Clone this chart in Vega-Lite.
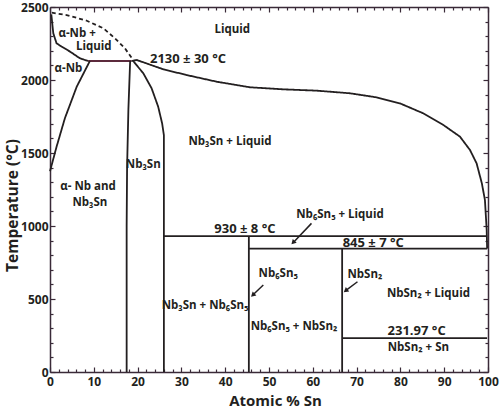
{
  "$schema": "https://vega.github.io/schema/vega-lite/v6.json",
  "width": 438,
  "height": 365,
  "autosize": "none",
  "padding": {"left": 50, "top": 7, "right": 12, "bottom": 39},
  "background": "white",
  "config": {
    "view": {"stroke": null},
    "font": "Open Sans",
    "axis": {
      "domainColor": "#3a2a38",
      "domainWidth": 1.5,
      "tickColor": "#3a2a38",
      "tickWidth": 1.2,
      "labelFont": "Open Sans",
      "labelFontWeight": "bold",
      "labelFontSize": 12,
      "labelColor": "#231f20",
      "titleFont": "Open Sans",
      "titleFontWeight": "bold",
      "titleFontSize": 15,
      "titleColor": "#231f20",
      "grid": false
    }
  },
  "datasets": {
    "curves": [
      {"g": "liqL", "s": "solid", "i": 0, "x": 0.3, "t": 2450},
      {"g": "liqL", "s": "solid", "i": 1, "x": 0.75, "t": 2320},
      {"g": "liqL", "s": "solid", "i": 2, "x": 1.5, "t": 2251},
      {"g": "liqL", "s": "solid", "i": 3, "x": 2.7, "t": 2228},
      {"g": "liqL", "s": "solid", "i": 4, "x": 4.6, "t": 2194},
      {"g": "liqL", "s": "solid", "i": 5, "x": 6.8, "t": 2149},
      {"g": "liqL", "s": "solid", "i": 6, "x": 8.7, "t": 2130},
      {"g": "peri", "s": "red", "i": 0, "x": 8.7, "t": 2130},
      {"g": "peri", "s": "red", "i": 1, "x": 18.6, "t": 2130},
      {"g": "dash", "s": "dash", "i": 0, "x": 0.4, "t": 2461},
      {"g": "dash", "s": "dash", "i": 1, "x": 3.8, "t": 2445},
      {"g": "dash", "s": "dash", "i": 2, "x": 8.4, "t": 2406},
      {"g": "dash", "s": "dash", "i": 3, "x": 12.2, "t": 2354},
      {"g": "dash", "s": "dash", "i": 4, "x": 14.8, "t": 2286},
      {"g": "dash", "s": "dash", "i": 5, "x": 17.1, "t": 2217},
      {"g": "dash", "s": "dash", "i": 6, "x": 18.7, "t": 2149},
      {"g": "solvus", "s": "solid", "i": 0, "x": 9.1, "t": 2130},
      {"g": "solvus", "s": "solid", "i": 1, "x": 6.1, "t": 1954},
      {"g": "solvus", "s": "solid", "i": 2, "x": 3.4, "t": 1738},
      {"g": "solvus", "s": "solid", "i": 3, "x": 1.5, "t": 1543},
      {"g": "solvus", "s": "solid", "i": 4, "x": 0, "t": 1375},
      {"g": "n3L", "s": "solid", "i": 0, "x": 18.3, "t": 2130},
      {"g": "n3L", "s": "solid", "i": 1, "x": 17.9, "t": 1800},
      {"g": "n3L", "s": "solid", "i": 2, "x": 17.6, "t": 1400},
      {"g": "n3L", "s": "solid", "i": 3, "x": 17.5, "t": 1000},
      {"g": "n3L", "s": "solid", "i": 4, "x": 17.5, "t": 0},
      {"g": "n3R", "s": "solid", "i": 0, "x": 19.0, "t": 2130},
      {"g": "n3R", "s": "solid", "i": 1, "x": 21.3, "t": 2046},
      {"g": "n3R", "s": "solid", "i": 2, "x": 23.2, "t": 1943},
      {"g": "n3R", "s": "solid", "i": 3, "x": 24.7, "t": 1817},
      {"g": "n3R", "s": "solid", "i": 4, "x": 25.6, "t": 1703},
      {"g": "n3R", "s": "solid", "i": 5, "x": 26.0, "t": 1623},
      {"g": "n3R", "s": "solid", "i": 6, "x": 26.0, "t": 0},
      {"g": "liqR", "s": "solid", "i": 0, "x": 18.6, "t": 2130},
      {"g": "liqR", "s": "solid", "i": 1, "x": 19.8, "t": 2137},
      {"g": "liqR", "s": "solid", "i": 2, "x": 25.9, "t": 2073},
      {"g": "liqR", "s": "solid", "i": 3, "x": 31.2, "t": 2034},
      {"g": "liqR", "s": "solid", "i": 4, "x": 38.1, "t": 1988},
      {"g": "liqR", "s": "solid", "i": 5, "x": 45.7, "t": 1950},
      {"g": "liqR", "s": "solid", "i": 6, "x": 53.3, "t": 1936},
      {"g": "liqR", "s": "solid", "i": 7, "x": 60.9, "t": 1927},
      {"g": "liqR", "s": "solid", "i": 8, "x": 68.5, "t": 1909},
      {"g": "liqR", "s": "solid", "i": 9, "x": 74.6, "t": 1881},
      {"g": "liqR", "s": "solid", "i": 10, "x": 79.9, "t": 1840},
      {"g": "liqR", "s": "solid", "i": 11, "x": 85.2, "t": 1772},
      {"g": "liqR", "s": "solid", "i": 12, "x": 89.8, "t": 1692},
      {"g": "liqR", "s": "solid", "i": 13, "x": 93.6, "t": 1612},
      {"g": "liqR", "s": "solid", "i": 14, "x": 95.9, "t": 1520},
      {"g": "liqR", "s": "solid", "i": 15, "x": 97.4, "t": 1429},
      {"g": "liqR", "s": "solid", "i": 16, "x": 98.6, "t": 1292},
      {"g": "liqR", "s": "solid", "i": 17, "x": 99.3, "t": 1178},
      {"g": "liqR", "s": "solid", "i": 18, "x": 99.7, "t": 973},
      {"g": "liqR", "s": "solid", "i": 19, "x": 99.8, "t": 845},
      {"g": "h930", "s": "solid", "i": 0, "x": 26.0, "t": 930},
      {"g": "h930", "s": "solid", "i": 1, "x": 99.8, "t": 930},
      {"g": "h845", "s": "solid", "i": 0, "x": 45.4, "t": 845},
      {"g": "h845", "s": "solid", "i": 1, "x": 99.8, "t": 845},
      {"g": "v65", "s": "solid", "i": 0, "x": 45.4, "t": 930},
      {"g": "v65", "s": "solid", "i": 1, "x": 45.4, "t": 0},
      {"g": "v12", "s": "solid", "i": 0, "x": 66.7, "t": 845},
      {"g": "v12", "s": "solid", "i": 1, "x": 66.7, "t": 0},
      {"g": "h232", "s": "solid", "i": 0, "x": 66.7, "t": 232},
      {"g": "h232", "s": "solid", "i": 1, "x": 99.8, "t": 232}
    ],
    "labels": [
      {"x": 41.6, "t": 2343, "text": "Liquid", "kind": "phase"},
      {"x": 6.2, "t": 2315, "text": "α-Nb +", "kind": "phase"},
      {"x": 10.0, "t": 2226, "text": "Liquid", "kind": "phase"},
      {"x": 4.2, "t": 2073, "text": "α-Nb", "kind": "phase"},
      {"x": 31.5, "t": 2142, "text": "2130 ± 30 °C", "kind": "temp"},
      {"x": 41.1, "t": 1577, "text": "Nb₃Sn + Liquid", "kind": "phase"},
      {"x": 21.3, "t": 1418, "text": "Nb₃Sn", "kind": "phase"},
      {"x": 8.7, "t": 1269, "text": "α- Nb and", "kind": "phase"},
      {"x": 9.1, "t": 1160, "text": "Nb₃Sn", "kind": "phase"},
      {"x": 44.5, "t": 977, "text": "930 ± 8 °C", "kind": "temp"},
      {"x": 66.2, "t": 1075, "text": "Nb₆Sn₅ + Liquid", "kind": "phase"},
      {"x": 73.8, "t": 886, "text": "845 ± 7 °C", "kind": "temp"},
      {"x": 52.1, "t": 671, "text": "Nb₆Sn₅", "kind": "phase"},
      {"x": 71.9, "t": 664, "text": "NbSn₂", "kind": "phase"},
      {"x": 86.4, "t": 534, "text": "NbSn₂ + Liquid", "kind": "phase"},
      {"x": 35.4, "t": 452, "text": "Nb₃Sn + Nb₆Sn₅", "kind": "phase"},
      {"x": 55.7, "t": 306, "text": "Nb₆Sn₅ + NbSn₂", "kind": "phase"},
      {"x": 83.7, "t": 283, "text": "231.97 °C", "kind": "temp"},
      {"x": 84.1, "t": 162, "text": "NbSn₂ + Sn", "kind": "phase"}
    ],
    "arrows": [
      {"x": 59.7, "t": 1018, "x2": 55.5, "t2": 886, "angle": 224},
      {"x": 48.7, "t": 596, "x2": 46.3, "t2": 527, "angle": 227},
      {"x": 70.2, "t": 618, "x2": 67.5, "t2": 557, "angle": 232}
    ]
  },
  "layer": [
    {
      "data": {"name": "curves"},
      "mark": {"type": "line", "strokeWidth": 1.8},
      "encoding": {
        "x": {
          "field": "x", "type": "quantitative",
          "scale": {"domain": [0, 100], "nice": false},
          "axis": {
            "orient": "bottom",
            "title": "Atomic % Sn",
            "values": [0,2,4,6,8,10,12,14,16,18,20,22,24,26,28,30,32,34,36,38,40,42,44,46,48,50,52,54,56,58,60,62,64,66,68,70,72,74,76,78,80,82,84,86,88,90,92,94,96,98,100],
            "labelExpr": "datum.value % 10 === 0 ? datum.label : ''",
            "tickSize": {"condition": {"test": "datum.value % 10 === 0", "value": -5}, "value": -3},
            "labelPadding": 9,
            "titleX": 225,
            "titleY": 21,
            "titleBaseline": "top",
            "labelFlush": false
          }
        },
        "y": {
          "field": "t", "type": "quantitative",
          "scale": {"domain": [0, 2500], "nice": false},
          "axis": {
            "orient": "left",
            "title": "Temperature (°C)",
            "values": [0,100,200,300,400,500,600,700,800,900,1000,1100,1200,1300,1400,1500,1600,1700,1800,1900,2000,2100,2200,2300,2400,2500],
            "labelExpr": "datum.value % 500 === 0 ? datum.label : ''",
            "format": "d",
            "tickSize": {"condition": {"test": "datum.value % 500 === 0", "value": -5}, "value": -3},
            "labelPadding": 7,
            "titleFontSize": 15.5,
            "titleX": -30,
            "titleY": 198,
            "labelFlush": false
          }
        },
        "detail": {"field": "g"},
        "order": {"field": "i", "type": "quantitative"},
        "color": {
          "field": "s", "type": "nominal", "legend": null,
          "scale": {"domain": ["solid", "dash", "red"], "range": ["#231f20", "#231f20", "#5c2a3c"]}
        },
        "strokeDash": {
          "field": "s", "type": "nominal", "legend": null,
          "scale": {"domain": ["solid", "dash", "red"], "range": [[1, 0], [4, 3], [1, 0]]}
        }
      }
    },
    {
      "data": {"name": "labels"},
      "mark": {"type": "text", "font": "Open Sans", "fontWeight": "bold", "color": "#231f20", "align": "center", "baseline": "middle"},
      "encoding": {
        "x": {
          "field": "x", "type": "quantitative",
          "axis": {
            "orient": "top", "title": null, "labels": false,
            "values": [0,2,4,6,8,10,12,14,16,18,20,22,24,26,28,30,32,34,36,38,40,42,44,46,48,50,52,54,56,58,60,62,64,66,68,70,72,74,76,78,80,82,84,86,88,90,92,94,96,98,100],
            "tickSize": {"condition": {"test": "datum.value % 10 === 0", "value": -5}, "value": -3}
          }
        },
        "y": {
          "field": "t", "type": "quantitative",
          "axis": {
            "orient": "right", "title": null, "labels": false,
            "values": [0,100,200,300,400,500,600,700,800,900,1000,1100,1200,1300,1400,1500,1600,1700,1800,1900,2000,2100,2200,2300,2400,2500],
            "tickSize": {"condition": {"test": "datum.value % 500 === 0", "value": -5}, "value": -3}
          }
        },
        "size": {"field": "kind", "type": "nominal", "legend": null, "scale": {"domain": ["phase", "temp"], "range": [11.5, 13]}},
        "text": {"field": "text"}
      }
    },
    {
      "data": {"name": "arrows"},
      "mark": {"type": "rule", "strokeWidth": 1.5, "color": "#231f20"},
      "encoding": {
        "x": {"field": "x", "type": "quantitative", "axis": null},
        "y": {"field": "t", "type": "quantitative", "axis": null},
        "x2": {"field": "x2"},
        "y2": {"field": "t2"}
      }
    },
    {
      "data": {"name": "arrows"},
      "mark": {"type": "point", "shape": "triangle-up", "filled": true, "size": 30, "color": "#231f20", "opacity": 1},
      "encoding": {
        "x": {"field": "x2", "type": "quantitative", "axis": null},
        "y": {"field": "t2", "type": "quantitative", "axis": null},
        "angle": {"field": "angle", "type": "quantitative", "scale": null}
      }
    }
  ],
  "resolve": {"axis": {"x": "independent", "y": "independent"}}
}
